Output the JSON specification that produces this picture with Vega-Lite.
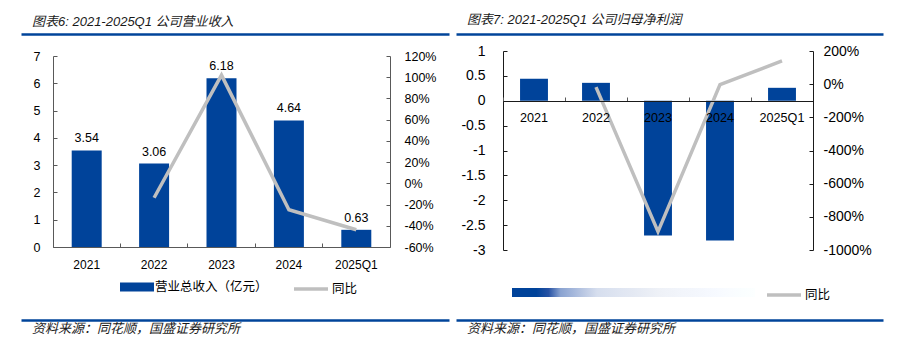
{
  "$schema": "https://vega.github.io/schema/vega-lite/v6.json",
  "autosize": {"type": "pad"},
  "padding": {"left": 18, "top": 13, "right": 0, "bottom": 0},
  "background": "white",
  "spacing": -28,
  "config": {
    "view": {"stroke": null},
    "font": "Liberation Sans",
    "locale": {"number": {"decimal": ".", "thousands": ",", "grouping": [3], "currency": ["$", ""], "minus": "-"}},
    "axis": {"labelFont": "Liberation Sans", "labelColor": "#000000", "grid": false}
  },
  "hconcat": [
    {
      "spacing": 16,
      "bounds": "flush",
      "vconcat": [
        {
          "width": 337,
          "height": 6,
          "title": {"text": "图表6:  2021-2025Q1 公司营业收入", "anchor": "start", "frame": "group", "dx": -21, "offset": -5, "baseline": "alphabetic", "font": "Liberation Sans, Noto Sans CJK SC", "fontSize": 13, "fontStyle": "italic", "fontWeight": "normal", "color": "#1a1a1a"},
          "data": {"values": [{"v": 0}]},
          "mark": {"type": "point", "opacity": 0},
          "encoding": {
            "x": {"field": "v", "type": "quantitative", "scale": {"domain": [0, 1], "range": [-32, 396]},
              "axis": {"orient": "top", "title": null, "domainColor": "#00449a", "domainWidth": 2.5, "ticks": false, "labels": false}}
          }
        },
        {
          "width": 337,
          "height": 191,
          "data": {"values": [
            {"year": "2021", "rev": 3.54, "yoy": null},
            {"year": "2022", "rev": 3.06, "yoy": -0.136},
            {"year": "2023", "rev": 6.18, "yoy": 1.02},
            {"year": "2024", "rev": 4.64, "yoy": -0.249},
            {"year": "2025Q1", "rev": 0.63, "yoy": -0.437}
          ]},
          "encoding": {
            "x": {"field": "year", "type": "nominal", "sort": null, "scale": {"paddingInner": 0, "paddingOuter": 0},
              "axis": {"title": null, "labelAngle": 0, "bandPosition": 0, "tickSize": -4, "labelPadding": 21, "labelBaseline": "middle", "domainColor": "#595959", "tickColor": "#595959", "labelFontSize": 12}}
          },
          "layer": [
            {
              "encoding": {
                "y": {"field": "rev", "type": "quantitative", "scale": {"domain": [0, 7], "nice": false},
                  "axis": {"title": null, "values": [0, 1, 2, 3, 4, 5, 6, 7], "format": "d", "labelOverlap": false, "tickSize": -4, "labelPadding": 17, "domainColor": "#595959", "tickColor": "#595959", "labelFontSize": 12.5}}
              },
              "layer": [
                {
                  "mark": {"type": "bar", "width": {"band": 0.445}},
                  "encoding": {
                    "fill": {"datum": "营业总收入（亿元）", "scale": {"range": ["#00439a"]},
                      "legend": {"orient": "none", "legendX": 67, "legendY": 214, "title": null, "symbolType": "M-1,-0.265H1V0.265H-1Z", "symbolSize": 1156, "symbolStrokeWidth": 0, "labelFont": "Noto Sans CJK SC", "labelFontSize": 12.5, "labelOffset": 1, "labelColor": "#000000"}}
                  }
                },
                {
                  "mark": {"type": "text", "baseline": "alphabetic", "dy": -8, "fontSize": 12.5, "font": "Liberation Sans", "color": "#000000"},
                  "encoding": {
                    "text": {"field": "rev", "type": "quantitative", "format": ".2f"}
                  }
                }
              ]
            },
            {
              "mark": {"type": "line", "strokeWidth": 3.5},
              "encoding": {
                "y": {"field": "yoy", "type": "quantitative", "scale": {"domain": [-0.6, 1.2], "nice": false, "zero": false},
                  "axis": {"title": null, "orient": "right", "values": [-0.6, -0.4, -0.2, 0, 0.2, 0.4, 0.6, 0.8, 1, 1.2], "format": ".0%", "labelOverlap": false, "tickSize": -4, "labelPadding": 18, "domainColor": "#595959", "tickColor": "#595959", "labelFontSize": 12.5}},
                "stroke": {"datum": "同比", "scale": {"range": ["#bfbfbf"]},
                  "legend": {"orient": "none", "legendX": 239, "legendY": 214, "title": null, "symbolType": "stroke", "symbolSize": 1156, "symbolStrokeWidth": 3.5, "labelFont": "Noto Sans CJK SC", "labelFontSize": 12.5, "labelOffset": 2, "labelColor": "#000000"}}
              }
            }
          ],
          "resolve": {"scale": {"y": "independent", "fill": "independent", "stroke": "independent"}}
        },
        {
          "width": 337,
          "height": 57,
          "title": {"text": "资料来源：同花顺，国盛证券研究所", "orient": "bottom", "anchor": "start", "frame": "group", "dx": -21, "offset": 13, "baseline": "alphabetic", "font": "Noto Sans CJK SC", "fontSize": 13, "fontStyle": "italic", "fontWeight": "normal", "color": "#1a1a1a"},
          "data": {"values": [{"v": 0}]},
          "mark": {"type": "point", "opacity": 0},
          "encoding": {
            "x": {"field": "v", "type": "quantitative", "scale": {"domain": [0, 1], "range": [-32, 396]},
              "axis": {"orient": "bottom", "title": null, "domainColor": "#00449a", "domainWidth": 2.5, "ticks": false, "labels": false}}
          }
        }
      ]
    },
    {
      "spacing": 16,
      "bounds": "flush",
      "vconcat": [
        {
          "width": 310,
          "height": 1,
          "title": {"text": "图表7:  2021-2025Q1 公司归母净利润", "anchor": "start", "frame": "group", "dx": -36, "offset": -5, "baseline": "alphabetic", "font": "Liberation Sans, Noto Sans CJK SC", "fontSize": 13, "fontStyle": "italic", "fontWeight": "normal", "color": "#1a1a1a"},
          "data": {"values": [{"v": 0}]},
          "mark": {"type": "point", "opacity": 0},
          "encoding": {
            "x": {"field": "v", "type": "quantitative", "scale": {"domain": [0, 1], "range": [-47, 380]},
              "axis": {"orient": "top", "title": null, "domainColor": "#00449a", "domainWidth": 2.5, "ticks": false, "labels": false}}
          }
        },
        {
          "width": 310,
          "height": 199,
          "data": {"values": [
            {"year": "2021", "np": 0.44, "yoy": null},
            {"year": "2022", "np": 0.36, "yoy": -0.18},
            {"year": "2023", "np": -2.71, "yoy": -8.89},
            {"year": "2024", "np": -2.81, "yoy": -0.03},
            {"year": "2025Q1", "np": 0.26, "yoy": 1.4}
          ]},
          "encoding": {
            "x": {"field": "year", "type": "nominal", "sort": null, "scale": {"paddingInner": 0, "paddingOuter": 0},
              "axis": {"title": null, "labelAngle": 0, "bandPosition": 0, "offset": -149, "zindex": 1, "tickSize": -4, "labelPadding": 20, "labelBaseline": "middle", "domainColor": "#1a1a1a", "tickColor": "#595959", "labelFontSize": 12.6}}
          },
          "layer": [
            {
              "mark": {"type": "bar", "width": {"band": 0.45}},
              "encoding": {
                "y": {"field": "np", "type": "quantitative", "scale": {"domain": [-3, 1], "nice": false},
                  "axis": {"title": null, "values": [-3, -2.5, -2, -1.5, -1, -0.5, 0, 0.5, 1], "format": "~g", "labelOverlap": false, "tickSize": -4, "labelPadding": 22, "domainColor": "#1a1a1a", "tickColor": "#1a1a1a", "labelFontSize": 14}},
                "fill": {"datum": 0, "type": "quantitative",
                  "scale": {"type": "linear", "domain": [0, 0.14, 0.2, 0.35, 0.6, 1], "range": ["#00439a", "#00439a", "#8aa3d1", "#d6deee", "#eef1f7", "#ffffff"]},
                  "legend": {"orient": "none", "legendX": 9, "legendY": 237, "title": null, "direction": "horizontal", "gradientLength": 243, "gradientThickness": 9, "gradientStrokeWidth": 0, "labelExpr": "''", "labelOffset": 0}}
              }
            },
            {
              "mark": {"type": "line", "strokeWidth": 3.5},
              "encoding": {
                "y": {"field": "yoy", "type": "quantitative", "scale": {"domain": [-10, 2], "nice": false, "zero": false},
                  "axis": {"title": null, "orient": "right", "values": [-10, -8, -6, -4, -2, 0, 2], "format": ".0%", "labelOverlap": false, "tickSize": -4, "labelPadding": 14, "domainColor": "#1a1a1a", "tickColor": "#1a1a1a", "labelFontSize": 14}},
                "stroke": {"datum": "同比", "scale": {"range": ["#bfbfbf"]},
                  "legend": {"orient": "none", "legendX": 262, "legendY": 225, "title": null, "symbolType": "stroke", "symbolSize": 1156, "symbolStrokeWidth": 3.5, "labelFont": "Noto Sans CJK SC", "labelFontSize": 12.5, "labelOffset": 2, "labelColor": "#000000"}}
              }
            }
          ],
          "resolve": {"scale": {"y": "independent", "fill": "independent", "stroke": "independent"}}
        },
        {
          "width": 310,
          "height": 54,
          "title": {"text": "资料来源：同花顺，国盛证券研究所", "orient": "bottom", "anchor": "start", "frame": "group", "dx": -36, "offset": 13, "baseline": "alphabetic", "font": "Noto Sans CJK SC", "fontSize": 13, "fontStyle": "italic", "fontWeight": "normal", "color": "#1a1a1a"},
          "data": {"values": [{"v": 0}]},
          "mark": {"type": "point", "opacity": 0},
          "encoding": {
            "x": {"field": "v", "type": "quantitative", "scale": {"domain": [0, 1], "range": [-47, 380]},
              "axis": {"orient": "bottom", "title": null, "domainColor": "#00449a", "domainWidth": 2.5, "ticks": false, "labels": false}}
          }
        }
      ]
    }
  ]
}
